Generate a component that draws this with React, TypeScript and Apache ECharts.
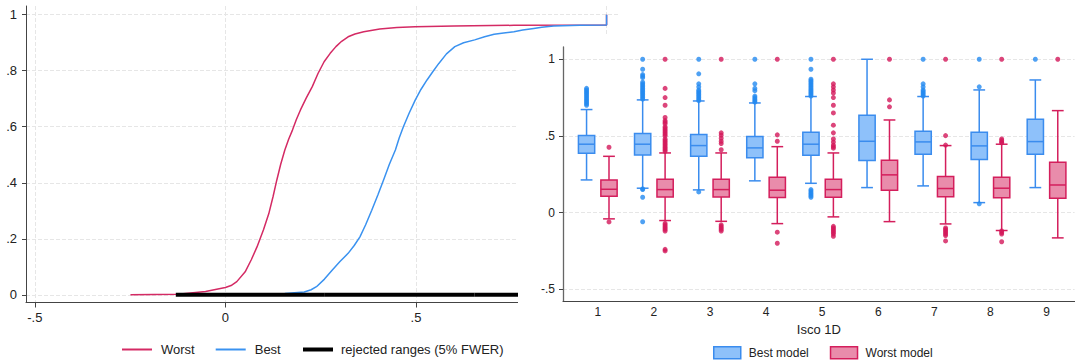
import React, { useEffect, useRef } from 'react';
import * as echarts from 'echarts';

// ---------- Left panel: CDFs ----------
const worstCdfX = [-0.249, -0.124, -0.052, 0.0, 0.015, 0.03, 0.052, 0.068, 0.083, 0.1, 0.114, 0.125, 0.135, 0.145, 0.156, 0.166, 0.176, 0.186, 0.197, 0.212, 0.228, 0.243, 0.259, 0.275, 0.29, 0.305, 0.322, 0.34, 0.363, 0.405, 0.45, 0.498, 0.6, 0.757, 1.0, 1.0];
const worstCdfY = [0.0, 0.002, 0.012, 0.026, 0.033, 0.047, 0.082, 0.125, 0.171, 0.232, 0.29, 0.35, 0.41, 0.465, 0.517, 0.555, 0.588, 0.625, 0.66, 0.702, 0.743, 0.79, 0.832, 0.862, 0.886, 0.905, 0.921, 0.931, 0.939, 0.949, 0.954, 0.957, 0.96, 0.962, 0.963, 1.0];
const bestCdfX = [0.156, 0.207, 0.225, 0.239, 0.26, 0.28, 0.3, 0.322, 0.338, 0.353, 0.368, 0.384, 0.4, 0.415, 0.43, 0.446, 0.456, 0.467, 0.482, 0.498, 0.513, 0.529, 0.545, 0.56, 0.58, 0.602, 0.625, 0.654, 0.68, 0.705, 0.73, 0.757, 0.78, 0.809, 0.83, 0.861, 0.93, 1.0, 1.0];
const bestCdfY = [0.005, 0.01, 0.018, 0.029, 0.056, 0.088, 0.118, 0.148, 0.176, 0.207, 0.25, 0.302, 0.356, 0.41, 0.465, 0.517, 0.56, 0.6, 0.648, 0.695, 0.733, 0.767, 0.798, 0.826, 0.86, 0.886, 0.9, 0.91, 0.921, 0.93, 0.935, 0.939, 0.945, 0.951, 0.955, 0.96, 0.962, 0.963, 1.0];
const rejectedFrom = [-0.13, 0.261, 0.653];
const rejectedTo = [0.261, 0.653, 1.0];
const leftXTicks = [-0.5, 0, 0.5, 1];
const leftYTicks = [0, 0.2, 0.4, 0.6, 0.8, 1];

// ---------- Right panel: boxplots by ISCO 1D ----------
const categories = [1, 2, 3, 4, 5, 6, 7, 8, 9];
const bestWhiskerLow = [0.213, 0.159, 0.148, 0.207, 0.191, 0.163, 0.174, 0.065, 0.163];
const bestQ1 = [0.387, 0.376, 0.367, 0.357, 0.374, 0.339, 0.38, 0.346, 0.38];
const bestMedian = [0.446, 0.446, 0.437, 0.422, 0.446, 0.465, 0.461, 0.435, 0.463];
const bestQ3 = [0.502, 0.515, 0.509, 0.496, 0.524, 0.635, 0.53, 0.524, 0.609];
const bestWhiskerHigh = [0.672, 0.735, 0.728, 0.715, 0.757, 1.0, 0.757, 0.8, 0.865];

const worstWhiskerLow = [-0.041, -0.052, -0.057, -0.072, -0.028, -0.059, -0.074, -0.117, -0.165];
const worstQ1 = [0.107, 0.102, 0.102, 0.098, 0.1, 0.146, 0.104, 0.096, 0.093];
const worstMedian = [0.152, 0.15, 0.15, 0.146, 0.15, 0.246, 0.157, 0.159, 0.18];
const worstQ3 = [0.213, 0.217, 0.217, 0.23, 0.217, 0.341, 0.235, 0.23, 0.328];
const worstWhiskerHigh = [0.367, 0.389, 0.389, 0.43, 0.389, 0.604, 0.437, 0.446, 0.665];

// outliers: [category, value]
const bestOutliers: number[][] = [
  [1, 0.7], [1, 0.71], [1, 0.72], [1, 0.73], [1, 0.74], [1, 0.75], [1, 0.76], [1, 0.77], [1, 0.78], [1, 0.79], [1, 0.8], [1, 0.81],
  [2, 0.74], [2, 0.75], [2, 0.76], [2, 0.77], [2, 0.78], [2, 0.79], [2, 0.8], [2, 0.81], [2, 0.82], [2, 0.83], [2, 0.84], [2, 0.85], [2, 0.88], [2, 0.89], [2, 0.9], [2, 0.935], [2, 1.0], [2, 0.155], [2, 0.15], [2, 0.1], [2, -0.06],
  [3, 0.73], [3, 0.74], [3, 0.75], [3, 0.76], [3, 0.77], [3, 0.78], [3, 0.79], [3, 0.8], [3, 0.82], [3, 0.84], [3, 0.905], [3, 1.0], [3, 0.135],
  [4, 0.72], [4, 0.73], [4, 0.74], [4, 0.75], [4, 0.76], [4, 0.795], [4, 0.81], [4, 0.84], [4, 1.0],
  [5, 0.76], [5, 0.77], [5, 0.78], [5, 0.79], [5, 0.8], [5, 0.81], [5, 0.82], [5, 0.83], [5, 0.84], [5, 0.85], [5, 0.86], [5, 0.87], [5, 0.935], [5, 1.0], [5, 0.15], [5, 0.14], [5, 0.13], [5, 0.12], [5, 0.11], [5, 0.1],
  [7, 0.76], [7, 0.77], [7, 0.78], [7, 0.79], [7, 0.8], [7, 0.82], [7, 0.84], [7, 1.0],
  [8, 0.82], [8, 1.0], [8, 0.057],
  [9, 1.0],
];
const worstOutliers: number[][] = [
  [1, 0.426], [1, -0.061],
  [2, 0.4], [2, 0.41], [2, 0.42], [2, 0.43], [2, 0.44], [2, 0.45], [2, 0.46], [2, 0.47], [2, 0.48], [2, 0.5], [2, 0.51], [2, 0.52], [2, 0.53], [2, 0.54], [2, 0.55], [2, 0.56], [2, 0.58], [2, 0.59], [2, 0.6], [2, 0.62], [2, 0.7], [2, 0.75], [2, 0.81], [2, 1.0],
  [2, -0.07], [2, -0.08], [2, -0.09], [2, -0.1], [2, -0.11], [2, -0.12], [2, -0.24], [2, -0.25],
  [3, 0.41], [3, 0.45], [3, 0.465], [3, 0.485], [3, 0.505], [3, 0.52], [3, 1.0], [3, -0.08], [3, -0.09], [3, -0.1], [3, -0.11], [3, -0.12],
  [4, 0.465], [4, 0.507], [4, 1.0], [4, -0.128], [4, -0.2],
  [5, 0.42], [5, 0.43], [5, 0.44], [5, 0.46], [5, 0.48], [5, 0.52], [5, 0.57], [5, 0.65], [5, 0.7], [5, 0.75], [5, 0.78], [5, 0.8], [5, 0.82], [5, 0.84], [5, 1.0],
  [5, -0.09], [5, -0.1], [5, -0.11], [5, -0.12], [5, -0.13], [5, -0.14], [5, -0.155],
  [6, 0.69], [6, 0.735], [6, 1.0],
  [7, 0.44], [7, 0.502], [7, 1.0], [7, -0.1], [7, -0.11], [7, -0.12], [7, -0.13], [7, -0.14], [7, -0.15], [7, -0.185],
  [8, 0.455], [8, 0.46], [8, 0.47], [8, 0.48], [8, 1.0], [8, -0.12], [8, -0.13], [8, -0.14], [8, -0.19],
  [9, 1.0],
];
const rightYTicks = [-0.5, 0, 0.5, 1];

// ---------- styles ----------
const FONT = '"Liberation Sans", Arial, Helvetica, sans-serif';
const RED = '#d42a64';
const BLUE = '#3a92f0';
const BEST_STROKE = '#3a8cee';
const BEST_FILL = '#8ec1fa';
const WORST_STROKE = '#d41e5c';
const WORST_FILL = '#e98cab';
const BEST_DOT = '#2389f0';
const WORST_DOT = '#d3185a';
const GRID_LINE = { show: true, lineStyle: { color: '#e6e6e6', type: 'dashed' as const, width: 1 } };
const BOX_OFFSET = 0.2;
const BOX_WIDTH = 0.29;
const CAP_WIDTH = 0.21;

const fmt = (v: number) => {
  if (Math.abs(v) < 1e-9) return '0';
  const s = String(+v.toFixed(2));
  return s.replace(/^(-?)0\./, '$1.');
};

const zip = (xs: number[], ys: number[]) => xs.map((x, i) => [x, ys[i]]);

const boxRows = (lo: number[], q1: number[], med: number[], q3: number[], hi: number[]) =>
  categories.map((c, i) => [c, lo[i], q1[i], med[i], q3[i], hi[i]]);

const makeBoxRender = (offset: number, stroke: string, fill: string) => (_params: any, api: any) => {
  const c = api.value(0) + offset;
  const pLo = api.coord([c, api.value(1)]);
  const pQ1 = api.coord([c, api.value(2)]);
  const pMed = api.coord([c, api.value(3)]);
  const pQ3 = api.coord([c, api.value(4)]);
  const pHi = api.coord([c, api.value(5)]);
  const half = api.size([BOX_WIDTH, 0])[0] / 2;
  const capHalf = api.size([CAP_WIDTH, 0])[0] / 2;
  const x = pLo[0];
  const ls = { stroke, lineWidth: 1.5 };
  return {
    type: 'group',
    children: [
      { type: 'line', shape: { x1: x, y1: pLo[1], x2: x, y2: pQ1[1] }, style: ls },
      { type: 'line', shape: { x1: x, y1: pQ3[1], x2: x, y2: pHi[1] }, style: ls },
      { type: 'line', shape: { x1: x - capHalf, y1: pLo[1], x2: x + capHalf, y2: pLo[1] }, style: ls },
      { type: 'line', shape: { x1: x - capHalf, y1: pHi[1], x2: x + capHalf, y2: pHi[1] }, style: ls },
      { type: 'rect', shape: { x: x - half, y: pQ3[1], width: 2 * half, height: pQ1[1] - pQ3[1] }, style: { fill, stroke, lineWidth: 1.5 } },
      { type: 'line', shape: { x1: x - half, y1: pMed[1], x2: x + half, y2: pMed[1] }, style: ls },
    ],
  };
};

export default function App() {
  const ref = useRef<HTMLDivElement>(null);
  useEffect(() => {
    if (!ref.current) return;
    const chart = echarts.init(ref.current, null, { renderer: 'svg' });

    const rejectedSeries = rejectedFrom.map((a, i) => ({
      name: 'rejected ranges (5% FWER)',
      type: 'line',
      xAxisIndex: 0,
      yAxisIndex: 0,
      data: [[a, 0], [rejectedTo[i], 0]],
      showSymbol: false,
      symbol: 'none',
      lineStyle: { color: '#000', width: 4 },
      itemStyle: { color: '#000' },
      z: 3,
    }));

    const option: any = {
      animation: false,
      backgroundColor: '#fff',
      textStyle: { fontFamily: FONT },
      grid: [
        { left: 26, top: 6, width: 592, height: 296.5 },
        { left: 563, top: 47, width: 511.6, height: 254.2 },
      ],
      graphic: [
        { type: 'rect', z: 5, shape: { x: 518, y: 35, width: 558, height: 329 }, style: { fill: '#fff' } },
      ],
      legend: [
        {
          left: 122, top: 343, padding: 0, itemGap: 21, itemWidth: 30, itemHeight: 2,
          textStyle: { fontFamily: FONT, fontSize: 13, color: '#222', padding: [0, 0, 0, 4] },
          data: [
            { name: 'Worst', icon: 'rect', itemStyle: { color: RED } },
            { name: 'Best', icon: 'rect', itemStyle: { color: BLUE } },
          ],
        },
        {
          left: 303, top: 343, padding: 0, itemWidth: 30, itemHeight: 4,
          textStyle: { fontFamily: FONT, fontSize: 13, color: '#222', padding: [0, 0, 0, 3] },
          data: [{ name: 'rejected ranges (5% FWER)', icon: 'rect', itemStyle: { color: '#000' } }],
        },
        {
          left: 713, top: 346, padding: 0, itemGap: 21, itemWidth: 27, itemHeight: 12, z: 10,
          textStyle: { fontFamily: FONT, fontSize: 12, color: '#222', padding: [0, 0, 0, 3] },
          data: [
            { name: 'Best model', icon: 'rect', itemStyle: { color: BEST_FILL, borderColor: BEST_STROKE, borderWidth: 1.5 } },
            { name: 'Worst model', icon: 'rect', itemStyle: { color: WORST_FILL, borderColor: WORST_STROKE, borderWidth: 1.5 } },
          ],
        },
      ],
      xAxis: [
        {
          type: 'value', gridIndex: 0, min: -0.523, max: 1.03,
          axisLine: { show: true, onZero: false, lineStyle: { color: '#444', width: 1 } },
          axisTick: { show: true, length: 5, customValues: leftXTicks, lineStyle: { color: '#444' } },
          axisLabel: { customValues: leftXTicks, formatter: fmt, fontSize: 13, color: '#222', margin: 8, fontFamily: FONT },
          splitLine: GRID_LINE,
        },
        {
          type: 'value', gridIndex: 1, min: 0.38, max: 9.5, z: 10,
          name: 'Isco 1D', nameLocation: 'middle', nameGap: 20,
          nameTextStyle: { fontSize: 13, color: '#222', fontFamily: FONT },
          axisLine: { show: true, onZero: false, lineStyle: { color: '#444', width: 1 } },
          axisTick: { show: false, customValues: categories },
          axisLabel: { customValues: categories, fontSize: 12, color: '#222', margin: 5, fontFamily: FONT },
          splitLine: { show: false },
        },
      ],
      yAxis: [
        {
          type: 'value', gridIndex: 0, min: -0.0275, max: 1.031,
          axisLine: { show: true, onZero: false, lineStyle: { color: '#444', width: 1 } },
          axisTick: { show: true, length: 4, customValues: leftYTicks, lineStyle: { color: '#444' } },
          axisLabel: { customValues: leftYTicks, formatter: fmt, fontSize: 13, color: '#222', margin: 9, fontFamily: FONT },
          splitLine: GRID_LINE,
        },
        {
          type: 'value', gridIndex: 1, min: -0.578, max: 1.08, z: 10,
          axisLine: { show: true, onZero: false, lineStyle: { color: '#666', width: 1.3 } },
          axisTick: { show: true, length: 4, customValues: rightYTicks, lineStyle: { color: '#444' } },
          axisLabel: { customValues: rightYTicks, formatter: fmt, fontSize: 12, color: '#222', margin: 8, fontFamily: FONT },
          splitLine: GRID_LINE,
        },
      ],
      series: [
        {
          name: 'Worst', type: 'line', xAxisIndex: 0, yAxisIndex: 0,
          data: zip(worstCdfX, worstCdfY), showSymbol: false, symbol: 'none',
          smooth: false,
          lineStyle: { color: RED, width: 1.5 }, itemStyle: { color: RED }, z: 2,
        },
        {
          name: 'Best', type: 'line', xAxisIndex: 0, yAxisIndex: 0,
          data: zip(bestCdfX, bestCdfY), showSymbol: false, symbol: 'none',
          smooth: false,
          lineStyle: { color: BLUE, width: 1.5 }, itemStyle: { color: BLUE }, z: 2,
        },
        ...rejectedSeries,
        {
          name: 'Best model', type: 'custom', xAxisIndex: 1, yAxisIndex: 1, z: 10,
          renderItem: makeBoxRender(-BOX_OFFSET, BEST_STROKE, BEST_FILL),
          encode: { x: 0, y: [1, 2, 3, 4, 5] },
          itemStyle: { color: BEST_FILL, borderColor: BEST_STROKE },
          data: boxRows(bestWhiskerLow, bestQ1, bestMedian, bestQ3, bestWhiskerHigh),
        },
        {
          name: 'Worst model', type: 'custom', xAxisIndex: 1, yAxisIndex: 1, z: 10,
          renderItem: makeBoxRender(BOX_OFFSET, WORST_STROKE, WORST_FILL),
          encode: { x: 0, y: [1, 2, 3, 4, 5] },
          itemStyle: { color: WORST_FILL, borderColor: WORST_STROKE },
          data: boxRows(worstWhiskerLow, worstQ1, worstMedian, worstQ3, worstWhiskerHigh),
        },
        {
          name: 'Best model', type: 'scatter', xAxisIndex: 1, yAxisIndex: 1, z: 11,
          symbolSize: 5, itemStyle: { color: BEST_DOT },
          data: bestOutliers.map(([c, v]) => [c - BOX_OFFSET, v]),
        },
        {
          name: 'Worst model', type: 'scatter', xAxisIndex: 1, yAxisIndex: 1, z: 11,
          symbolSize: 5, itemStyle: { color: WORST_DOT },
          data: worstOutliers.map(([c, v]) => [c + BOX_OFFSET, v]),
        },
      ],
    };

    chart.setOption(option);
    return () => chart.dispose();
  }, []);

  return (
    <div
      ref={ref}
      style={{ position: 'fixed', left: 0, top: 0, width: 1076, height: 364, background: '#fff' }}
    />
  );
}
